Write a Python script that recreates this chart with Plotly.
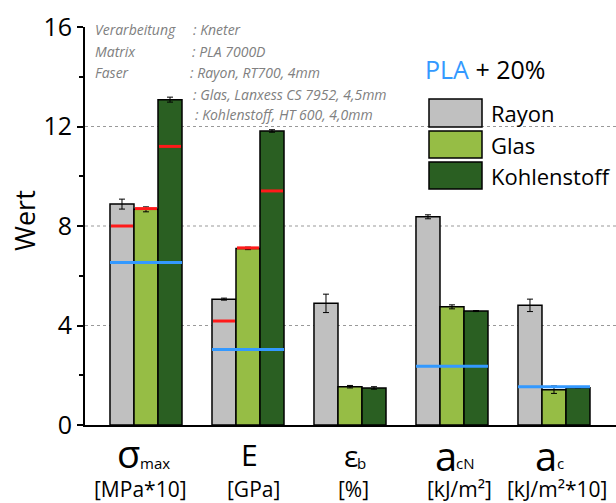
import plotly.graph_objects as go

# ---------------- data ----------------
categories = ["σmax", "E", "εb", "acN", "ac"]
series_names = ["Rayon", "Glas", "Kohlenstoff"]
rayon = [8.88, 5.06, 4.89, 8.37, 4.81]
rayon_err = [0.20, 0.04, 0.37, 0.08, 0.25]
glas = [8.67, 7.10, 1.54, 4.75, 1.42]
glas_err = [0.10, 0.05, 0.05, 0.08, 0.15]
kohle = [13.08, 11.82, 1.49, 4.58, 1.50]
kohle_err = [0.10, 0.05, 0.05, 0.02, 0.0]
# red reference marks per bar
rayon_ref = [8.0, 4.18, None, None, None]
glas_ref = [8.70, 7.12, None, None, None]
kohle_ref = [11.2, 9.41, None, None, None]
# blue PLA reference line per group
pla_ref = [6.53, 3.04, None, 2.36, 1.54]

sym_main = ["σ", "E", "ε", "a", "a"]
sym_sub = ["max", "", "b", "cN", "c"]
units = ["[MPa*10]", "[GPa]", "[%]", "[kJ/m²]", "[kJ/m²*10]"]

colors = ["#c0c0c0", "#96bd45", "#2a5f22"]
FONT = "Open Sans"

W, H = 616, 503
L, R, T, B = 85, 0, 27, 78
PW, PH = W - L - R, H - T - B

def px(x):
    return (x - L) / PW

def py(y):
    return (H - B - y) / PH

xpos = list(range(len(categories)))
group_w = 0.706
bar_w = group_w / 3

fig = go.Figure()
for k, (name, vals, errs) in enumerate(zip(series_names, [rayon, glas, kohle], [rayon_err, glas_err, kohle_err])):
    fig.add_trace(go.Bar(
        x=xpos, y=vals, name=name,
        marker=dict(color=colors[k], line=dict(color="black", width=1.5)),
        error_y=dict(type="data", array=errs, color="black", thickness=1, width=3),
        showlegend=False,
    ))

# red reference segments
for k, refs in enumerate([rayon_ref, glas_ref, kohle_ref]):
    xs, ys = [], []
    off = (k - 1) * bar_w
    for i, v in enumerate(refs):
        if v is None:
            continue
        xs += [i + off - bar_w / 2 + 0.01, i + off + bar_w / 2 - 0.01, None]
        ys += [v, v, None]
    fig.add_trace(go.Scatter(x=xs, y=ys, mode="lines", line=dict(color="#ff1a1a", width=3),
                             showlegend=False, hoverinfo="skip"))

# blue PLA segments
xs, ys = [], []
for i, v in enumerate(pla_ref):
    if v is None:
        continue
    xs += [i - group_w / 2, i + group_w / 2, None]
    ys += [v, v, None]
fig.add_trace(go.Scatter(x=xs, y=ys, mode="lines", line=dict(color="#3399ff", width=3),
                         showlegend=False, hoverinfo="skip"))

shapes = []
for g in [4, 8, 12]:
    shapes.append(dict(type="line", xref="paper", yref="y", x0=0, x1=1, y0=g, y1=g,
                       line=dict(color="#999999", width=1, dash="dot"), layer="below"))

annotations = []
# x-axis labels
main_pos = [(141, 453, 38), (259, 454, 30), (359, 455, 30), (458, 455, 40), (558, 455, 40)]
sub_pos = [139, None, 356, 455, 556]
unit_x = [140, 253, 353, 459, 557]
for i in range(len(categories)):
    xr, yc, fs = main_pos[i]
    annotations.append(dict(x=px(xr), y=py(yc), xref="paper", yref="paper", text=sym_main[i],
                            showarrow=False, xanchor="right", yanchor="middle", borderpad=0,
                            font=dict(family=FONT, size=fs, color="black")))
    if sym_sub[i]:
        annotations.append(dict(x=px(sub_pos[i]), y=py(463), xref="paper", yref="paper", text=sym_sub[i],
                                showarrow=False, xanchor="left", yanchor="middle", borderpad=0,
                                font=dict(family=FONT, size=15, color="black")))
    annotations.append(dict(x=px(unit_x[i]), y=py(489), xref="paper", yref="paper", text=units[i],
                            showarrow=False, xanchor="center", yanchor="middle", borderpad=0,
                            font=dict(family=FONT, size=21, color="black")))

# info text block
info_left = ["Verarbeitung", "Matrix", "Faser", "", ""]
info_right = [": Kneter", ": PLA 7000D", ": Rayon, RT700, 4mm",
              ": Glas, Lanxess CS 7952, 4,5mm", ": Kohlenstoff, HT 600, 4,0mm"]
info_y = [30, 51, 72, 94, 115]
info_rx = [191, 190, 188, 191, 193]
for lt, rt, yy, rx in zip(info_left, info_right, info_y, info_rx):
    if lt:
        annotations.append(dict(x=px(93), y=py(yy), xref="paper", yref="paper", text="<i>%s</i>" % lt,
                                showarrow=False, xanchor="left", yanchor="middle",
                                font=dict(family=FONT, size=14, color="#808080")))
    annotations.append(dict(x=px(rx), y=py(yy), xref="paper", yref="paper", text="<i>%s</i>" % rt,
                            showarrow=False, xanchor="left", yanchor="middle",
                            font=dict(family=FONT, size=14, color="#808080")))

# PLA + 20% title
annotations.append(dict(x=px(423), y=py(69), xref="paper", yref="paper",
                        text="<span style='color:#3399ff'>PLA</span> + 20%",
                        showarrow=False, xanchor="left", yanchor="middle",
                        font=dict(family=FONT, size=25, color="black")))

# manual legend
leg_y = [(99, 127), (131, 158), (162, 189)]
for k, (y0, y1) in enumerate(leg_y):
    shapes.append(dict(type="rect", xref="paper", yref="paper", x0=px(429), x1=px(482),
                       y0=py(y1), y1=py(y0), fillcolor=colors[k],
                       line=dict(color="black", width=1.5)))
    annotations.append(dict(x=px(489), y=py((y0 + y1) / 2), xref="paper", yref="paper",
                            text=series_names[k], showarrow=False, xanchor="left", yanchor="middle",
                            font=dict(family=FONT, size=22, color="black")))

# y title
annotations.append(dict(x=px(24), y=py(221), xref="paper", yref="paper", text="Wert",
                        textangle=-90, showarrow=False, xanchor="center", yanchor="middle",
                        font=dict(family=FONT, size=27, color="black")))

fig.update_layout(
    width=W, height=H,
    margin=dict(l=L, r=R, t=T, b=B, pad=0),
    paper_bgcolor="white", plot_bgcolor="white",
    barmode="group", bargap=1 - group_w, bargroupgap=0,
    showlegend=False,
    shapes=shapes, annotations=annotations,
    xaxis=dict(range=[-0.598, 4.608], showticklabels=False, ticks="", showgrid=False,
               zeroline=False, showline=True, linecolor="black", linewidth=2),
    yaxis=dict(range=[0, 16], tickvals=[0, 4, 8, 12, 16], ticks="outside", ticklen=6,
               tickwidth=1.5, tickcolor="black", showgrid=False, zeroline=False,
               showline=True, linecolor="black", linewidth=2,
               tickfont=dict(family=FONT, size=25, color="black"),
               minor=dict(tickvals=[2, 6, 10, 14], ticks="outside", ticklen=4, tickcolor="black",
                          tickwidth=1.5, showgrid=False)),
)

fig.write_html("out.html", config={"displayModeBar": False},
               post_script="document.body.style.margin='0';document.body.style.padding='0';")
